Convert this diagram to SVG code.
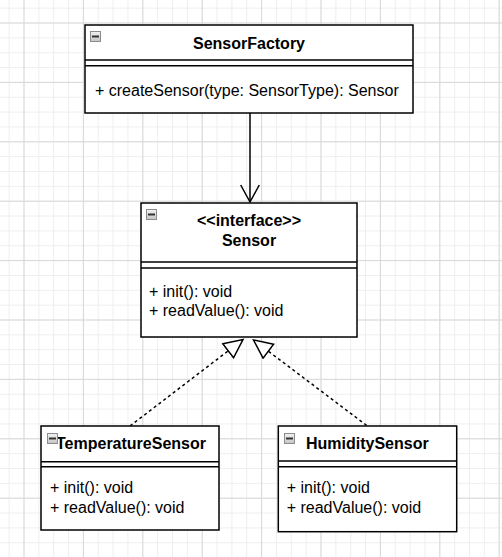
<svg xmlns="http://www.w3.org/2000/svg" width="502" height="557" viewBox="0 0 502 557">
<style>
.box{fill:#fff;stroke:#000;stroke-width:1.5}
.sep{stroke:#000;stroke-width:1.5;fill:none}
.title{font-family:"Liberation Sans",Arial,sans-serif;font-size:16px;font-weight:bold;fill:#000;text-anchor:middle}
.member{font-family:"Liberation Sans",Arial,sans-serif;font-size:16px;fill:#000}
.edge{stroke:#000;stroke-width:1.5;fill:none}
.dash{stroke-dasharray:3 3}
.ic{fill:url(#icg);stroke:#8c8c8c;stroke-width:1}
.icm{stroke:#333;stroke-width:2}
</style>
<defs>
<pattern id="minor" width="14.85" height="14.85" patternUnits="userSpaceOnUse" x="23.5" y="22.5">
<path d="M0 0.5H14.85M0.5 0V14.85" stroke="#eeeeee" stroke-width="1" fill="none"/>
</pattern>
<pattern id="major" width="59.4" height="59.4" patternUnits="userSpaceOnUse" x="23.5" y="22.5">
<path d="M0 0.5H59.4M0.5 0V59.4" stroke="#d8d8d8" stroke-width="1" fill="none"/>
</pattern>
<linearGradient id="icg" x1="0" y1="0" x2="0" y2="1">
<stop offset="0" stop-color="#f2f2f2"/>
<stop offset="1" stop-color="#c4c4c4"/>
</linearGradient>
<marker id="open" viewBox="0 0 20 20" markerUnits="userSpaceOnUse" markerWidth="20" markerHeight="20" refX="18" refY="10" orient="auto">
<path d="M1 0.7L18 10L1 19.3" fill="none" stroke="#000" stroke-width="1.5"/>
</marker>
<marker id="tri" viewBox="0 0 22 20" markerUnits="userSpaceOnUse" markerWidth="22" markerHeight="20" refX="19.6" refY="10" orient="auto">
<path d="M1 1.25L19.6 10L1 18.75Z" fill="#fff" stroke="#000" stroke-width="1.5"/>
</marker>
</defs>
<rect width="502" height="557" fill="#fff"/>
<rect width="502" height="557" fill="url(#minor)"/>
<rect width="502" height="557" fill="url(#major)"/>

<g id="connectors">
<path class="edge" d="M250 113V202" marker-end="url(#open)"/>
<path class="edge dash" d="M130 426L243 339.5" marker-end="url(#tri)"/>
<path class="edge dash" d="M366.7 425.5L253.5 340" marker-end="url(#tri)"/>
</g>

<g id="SensorFactory">
<rect class="box" x="85" y="25" width="328" height="88"/>
<path class="sep" d="M85 60H413M85 65.7H413"/>
<rect class="ic" x="90.5" y="31.5" width="10" height="10"/>
<path class="icm" d="M92 36.5H99"/>
<text class="title" x="249" y="49">SensorFactory</text>
<text class="member" x="95" y="95.5">+ createSensor(type: SensorType): Sensor</text>
</g>

<g id="Sensor">
<rect class="box" x="141" y="203" width="216" height="134"/>
<path class="sep" d="M141 262H357M141 268H357"/>
<rect class="ic" x="146.5" y="209.5" width="10" height="10"/>
<path class="icm" d="M148 214.5H155"/>
<text class="title" x="249" y="226">&lt;&lt;interface&gt;&gt;</text>
<text class="title" x="249" y="245.5">Sensor</text>
<text class="member" x="149" y="296.5">+ init(): void</text>
<text class="member" x="149" y="315.5">+ readValue(): void</text>
</g>

<g id="TemperatureSensor">
<rect class="box" x="41" y="426" width="178" height="104"/>
<path class="sep" d="M41 461.7H219M41 466.7H219"/>
<text class="title" x="131" y="449.3">TemperatureSensor</text>
<rect class="ic" x="47.5" y="433.5" width="10" height="10"/>
<path class="icm" d="M49 438.5H56"/>
<text class="member" x="50" y="493.3">+ init(): void</text>
<text class="member" x="50" y="513.3">+ readValue(): void</text>
</g>

<g id="HumiditySensor">
<rect class="box" x="278.3" y="426" width="178.4" height="105.7"/>
<path class="sep" d="M278.3 461H456.7M278.3 466.7H456.7"/>
<rect class="ic" x="284.5" y="433.5" width="10" height="10"/>
<path class="icm" d="M286 438.5H293"/>
<text class="title" x="367.3" y="448.5">HumiditySensor</text>
<text class="member" x="286.7" y="493.3">+ init(): void</text>
<text class="member" x="286.7" y="513.3">+ readValue(): void</text>
</g>
</svg>
